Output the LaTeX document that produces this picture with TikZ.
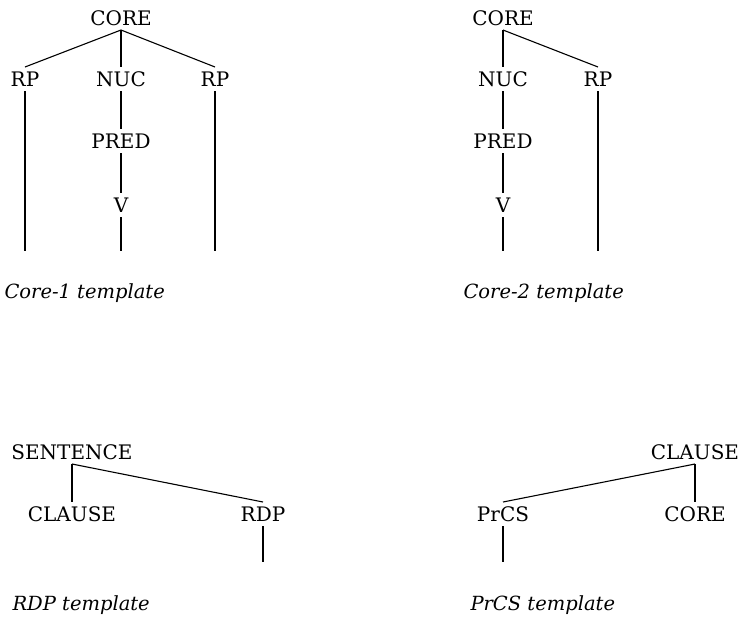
\documentclass[tikz,border=0pt]{standalone}
\usepackage{fontspec}
\setmainfont{DejaVu Serif}
\tikzset{
	lbl/.style={inner sep=0pt, outer ysep=4.5pt, text height=15pt, text depth=0pt, font=\fontsize{20}{24}\selectfont},
	tmpl/.style={anchor=west, inner sep=0pt, font=\fontsize{19.5}{24}\selectfont\itshape},
}
\begin{document}
\begin{tikzpicture}[x=1pt, y=-1pt, line width=1.1pt]
				\useasboundingbox (0,0) rectangle (739,622);

				% Core-1
				\node[lbl] (core1) at (121,18) {CORE};
				\node[lbl] (rpa) at (25,79) {RP};
				\node[lbl] (nuc1) at (121,79) {NUC};
				\node[lbl] (rpb) at (215,79) {RP};
				\node[lbl] (pred1) at (121,141) {PRED};
				\node[lbl] (v1) at (121,205) {V};
				\coordinate (rpaend) at (25,251);
				\coordinate (v1end) at (121,251);
				\coordinate (rpbend) at (215,251);
				\draw (core1.south) -- (rpa.north);
				\draw (core1.south) -- (nuc1.north);
				\draw (core1.south) -- (rpb.north);
				\draw (nuc1.south) -- (pred1.north);
				\draw (pred1.south) -- (v1.north);
				\draw (v1.south) -- (v1end);
				\draw (rpa.south) -- (rpaend);
				\draw (rpb.south) -- (rpbend);
				\node[tmpl] (t1) at (4,293) {Core-1 template};

				% Core-2
				\node[lbl] (core2) at (503,18) {CORE};
				\node[lbl] (nuc2) at (503,79) {NUC};
				\node[lbl] (rpc) at (598,79) {RP};
				\node[lbl] (pred2) at (503,141) {PRED};
				\node[lbl] (v2) at (503,205) {V};
				\coordinate (v2end) at (503,251);
				\coordinate (rpcend) at (598,251);
				\draw (core2.south) -- (nuc2.north);
				\draw (core2.south) -- (rpc.north);
				\draw (nuc2.south) -- (pred2.north);
				\draw (pred2.south) -- (v2.north);
				\draw (v2.south) -- (v2end);
				\draw (rpc.south) -- (rpcend);
				\node[tmpl] (t2) at (463,293) {Core-2 template};

				% RDP
				\node[lbl] (sent) at (72,452) {SENTENCE};
				\node[lbl] (clausea) at (72,514) {CLAUSE};
				\node[lbl] (rdp) at (263,514) {RDP};
				\coordinate (rdpend) at (263,562);
				\draw (sent.south) -- (clausea.north);
				\draw (sent.south) -- (rdp.north);
				\draw (rdp.south) -- (rdpend);
				\node[tmpl] (t3) at (12,605) {RDP template};

				% PrCS
				\node[lbl] (clauseb) at (695,452) {CLAUSE};
				\node[lbl] (core3) at (695,514) {CORE};
				\node[lbl] (prcs) at (503,514) {PrCS};
				\coordinate (prcsend) at (503,562);
				\draw (clauseb.south) -- (core3.north);
				\draw (clauseb.south) -- (prcs.north);
				\draw (prcs.south) -- (prcsend);
				\node[tmpl] (t4) at (470,605) {PrCS template};
			\end{tikzpicture}
\end{document}
